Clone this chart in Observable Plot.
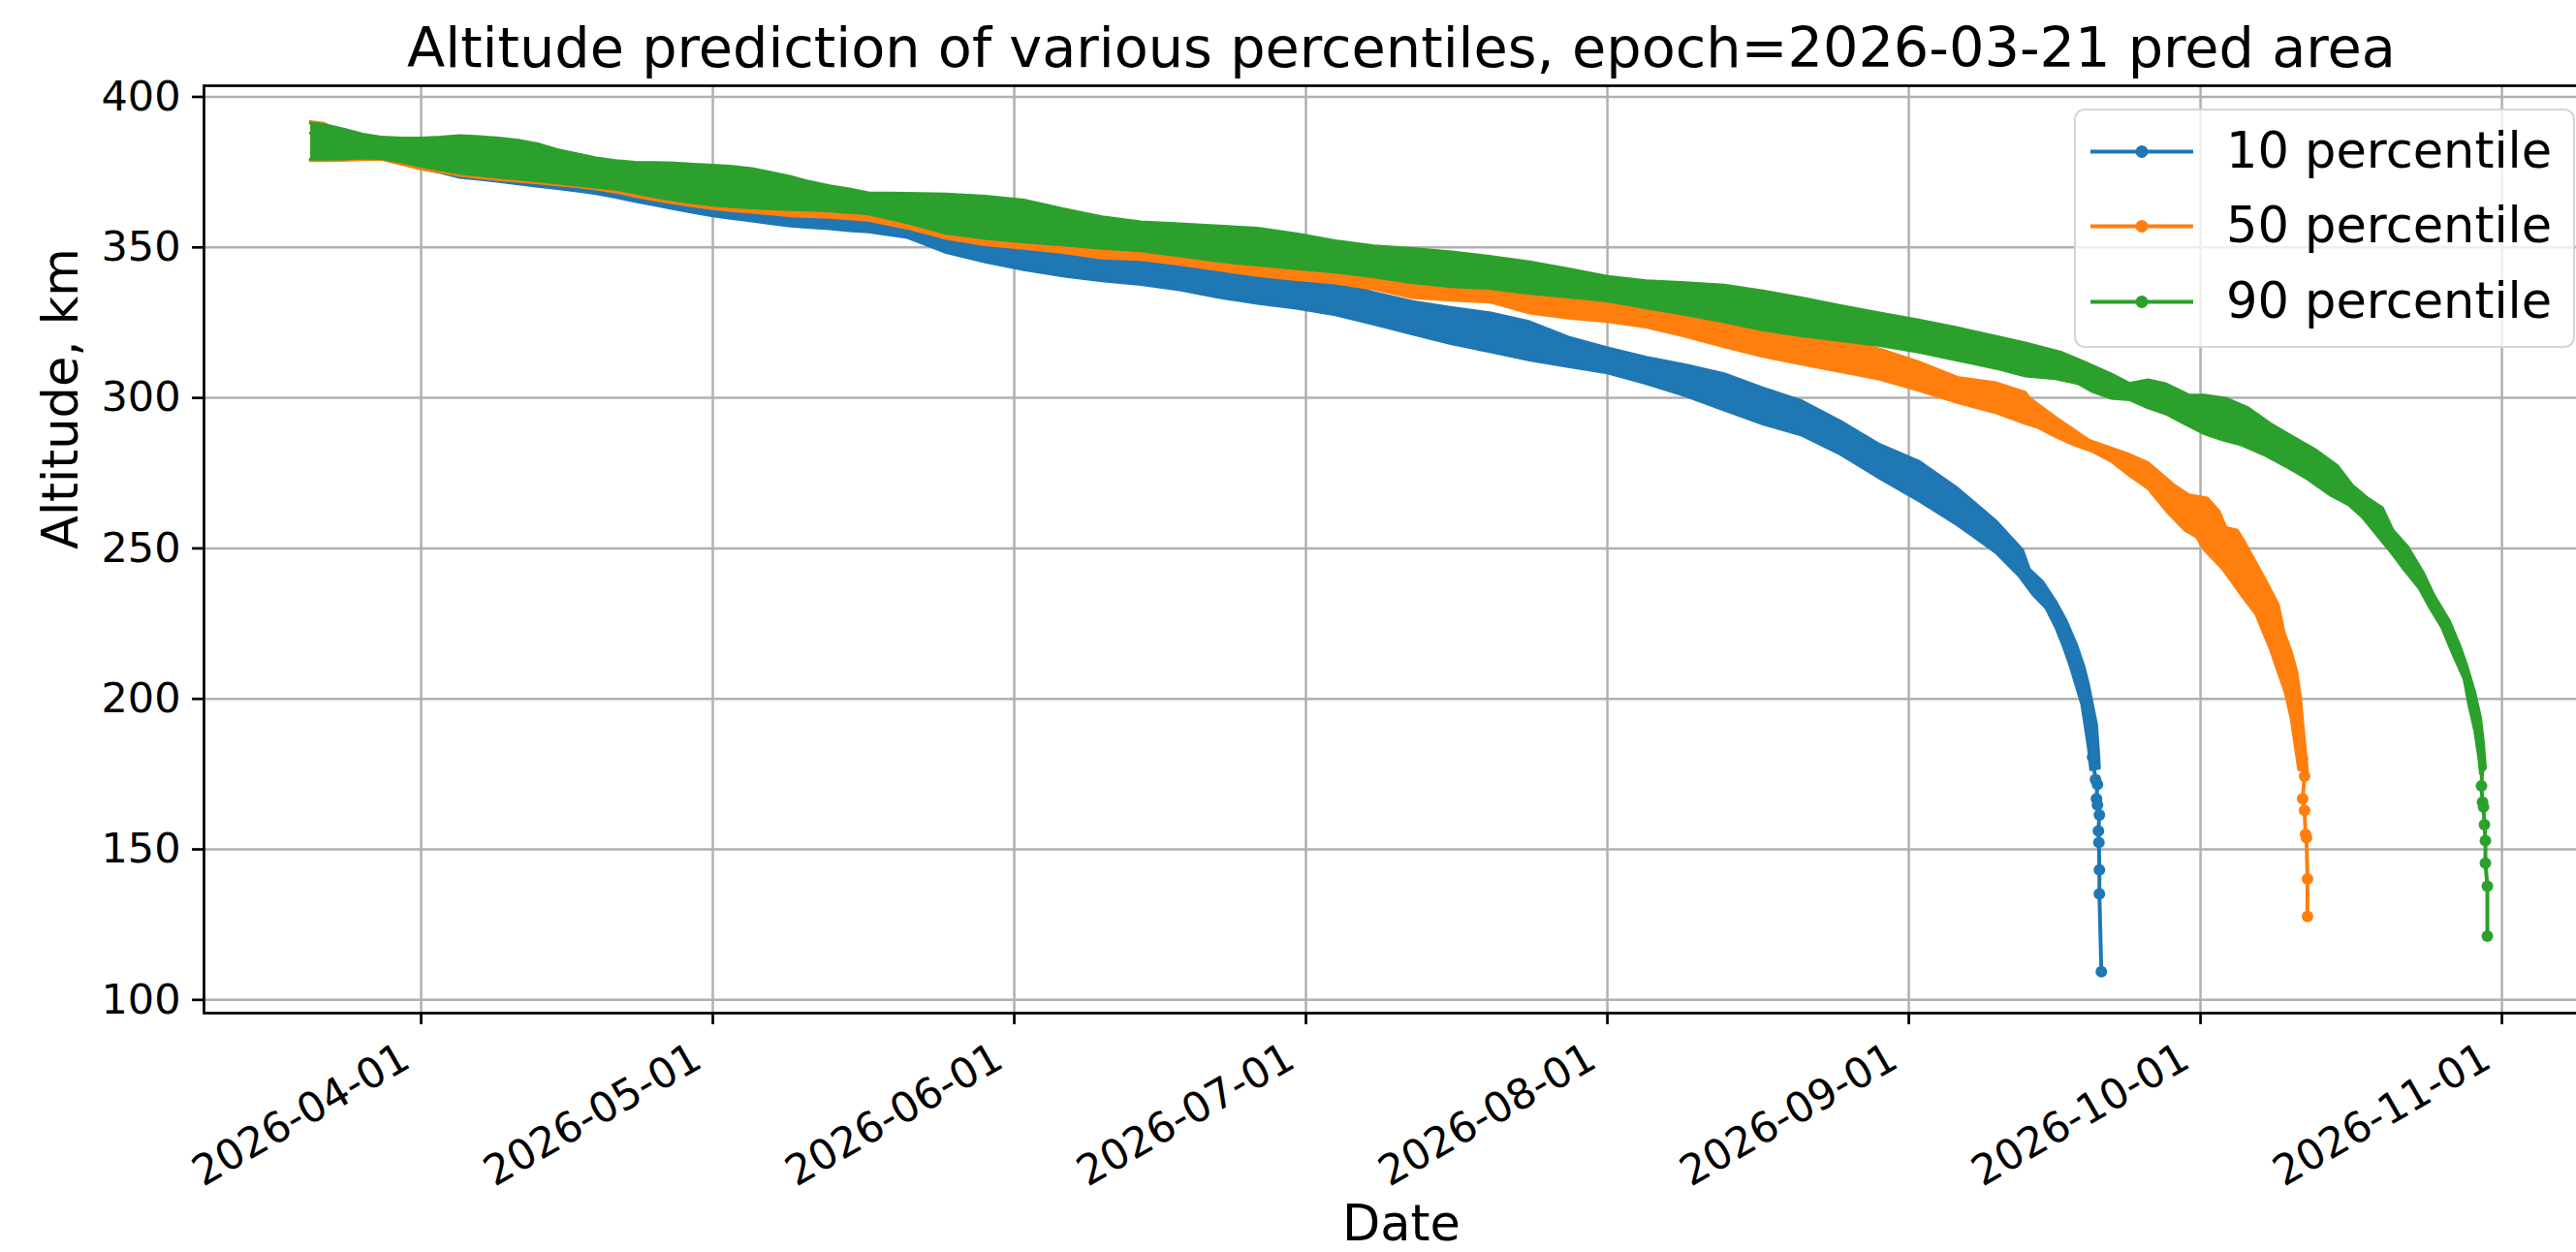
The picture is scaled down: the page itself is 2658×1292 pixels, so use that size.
<!DOCTYPE html>
<html><head><meta charset="utf-8">
<script src="https://cdn.jsdelivr.net/npm/d3@7"></script>
<script src="https://cdn.jsdelivr.net/npm/@observablehq/plot@0.6"></script>
<style>
html, body { margin:0; padding:0; background:#fff; overflow:hidden; }
#wrap { position:relative; width:2658px; height:1292px; font-family:"DejaVu Sans"; }
#legend { position:absolute; left:2140px; top:112px; width:517px; height:247px; box-sizing:border-box;
  border:2.5px solid rgba(204,204,204,0.8); border-radius:11px; background:rgba(255,255,255,0.8); }
</style></head>
<body><div id="wrap"><div id="chart"></div><div id="legend"></div></div>
<script>
// ---------------- DATA ----------------
const EPOCH = "2026-03-21";
const titleText = "Altitude prediction of various percentiles, epoch=2026-03-21 pred area";
const xLabel = "Date";
const yLabel = "Altitude, km";
const seriesNames = ["10 percentile", "50 percentile", "90 percentile"];
const seriesColors = ["#1f77b4", "#ff7f0e", "#2ca02c"];
const xTickLabels = ["2026-04-01","2026-05-01","2026-06-01","2026-07-01","2026-08-01","2026-09-01","2026-10-01","2026-11-01"];
const yTicks = [100, 150, 200, 250, 300, 350, 400];

// sample days (days after epoch) for the slowly varying part of the bands
const gridDays = [-0.4,1,3,5,7,9,11,13,15,17,19,21,23,25,27,29,31,33,35,37,39,41,43,45,47,49,51,53,55,57,
  61,65,69,73,77,81,85,89,93,97,101,105,109,113,117,121,125,129,133,137,141,145,149,153,157,161,165,169,173,176];

// 10 percentile: upper / lower envelope of the oscillating track (km)
const p10UpperGrid = [388.0,388.0,387.3,385.6,384.6,384.3,384.3,384.6,384.3,383.6,382.9,382.1,381.3,380.5,379.1,377.7,376.8,376.3,375.1,373.8,372.6,371.5,370.6,369.8,368.9,368.1,367.6,367.2,366.6,366.1,
  364.3,359.3,356.2,353.6,351.5,349.9,348.7,346.9,344.4,342.4,340.8,338.6,335.0,332.0,330.0,328.2,325.3,320.2,316.6,313.5,311.0,308.0,303.3,299.0,292.2,284.5,279.0,270.0,259.0];
const p10LowerGrid = [379.1,379.1,379.2,379.5,379.4,377.8,376.2,374.9,373.3,372.6,371.9,371.1,370.3,369.6,368.8,367.9,366.7,365.3,364.1,362.8,361.6,360.5,359.6,358.8,357.9,357.1,356.6,356.2,355.6,355.2,
  353.3,348.3,345.2,342.6,340.5,338.9,337.7,335.9,333.4,331.4,329.8,327.6,324.5,321.2,318.0,315.3,312.6,310.4,308.3,304.8,300.7,296.0,291.3,287.6,281.2,273.3,265.9,257.8,248.5];
const p10UpperSteepDays = [174.3,175.7,176.4,177.8,179.1,180.2,181.2,182.0,182.5,182.9,183.3,183.5,183.6];
const p10UpperSteepAlt  = [254.4,249.5,243.1,238.8,232.4,225.9,218.4,210.9,204.5,198.0,191.6,183.0,177.0];
const p10LowerSteepDays = [175.3,176.8,178.1,179.1,179.9,180.6,181.2,181.8,182.1,182.5,182.7];
const p10LowerSteepAlt  = [241.0,234.5,230.2,223.8,217.4,210.9,204.5,198.0,191.6,183.0,176.5];
const p10TailDays = [183.1,182.9,183.2,183.4,183.3,183.4,183.6,183.5,183.55,183.6,183.6,183.8];
const p10TailAlt  = [182.0,180.7,173.2,171.6,166.8,164.7,161.4,156.1,152.3,143.2,135.2,109.4];

// 50 percentile
const p50UpperGrid = [391.8,391.2,387.8,386.1,385.1,384.8,384.8,385.1,384.9,384.1,383.5,383.0,382.4,381.0,379.6,378.2,377.3,376.8,376.7,375.7,374.8,373.9,373.2,372.7,372.1,371.5,370.3,369.0,367.9,366.6,
  366.5,364.0,361.9,360.7,359.3,357.5,357.0,355.4,353.5,351.7,350.3,349.2,347.2,344.3,343.5,342.8,339.2,337.5,336.4,334.5,331.5,328.0,324.8,322.2,319.4,316.2,312.0,306.8,305.0,301.8];
const p50LowerGrid = [378.8,378.8,378.9,379.2,379.2,377.6,376.1,375.0,373.9,373.1,372.5,372.0,371.4,370.8,370.2,369.4,368.4,367.0,365.8,364.7,363.8,362.9,362.2,361.7,361.1,360.5,360.2,360.0,359.5,359.0,
  356.4,353.0,350.9,349.7,348.3,346.5,346.0,344.4,342.5,340.7,339.3,338.2,336.2,333.3,332.5,331.8,328.2,326.5,325.4,323.5,320.5,317.0,313.8,311.2,308.7,306.2,302.5,298.5,295.0,291.5];
const p50UpperSteepDays = [176.4,179.1,182.5,186.7,188.6,191.3,192.8,194.7,195.9,196.6,197.8,198.6,199.7,200.8,202.0,202.6,203.3,203.9,204.3,204.5,204.8,205.0];
const p50UpperSteepAlt  = [300.0,293.5,286.0,281.2,278.5,271.0,267.8,266.7,262.4,257.0,256.0,251.7,245.2,238.8,231.3,222.0,216.0,209.0,200.2,192.5,182.5,176.0];
const p50LowerSteepDays = [177.2,179.1,181.0,182.9,184.8,186.7,188.6,190.5,192.4,193.6,194.4,196.3,198.2,199.7,201.2,202.0,202.7,203.3,203.7,204.1];
const p50LowerSteepAlt  = [290.3,287.1,284.4,282.2,279.0,274.2,269.9,262.4,256.0,253.8,249.5,243.1,234.5,228.1,216.3,208.8,202.3,193.8,185.2,176.5];
const p50TailDays = [204.6,204.5,204.7,204.5,204.7,204.8,204.9,205.0,205.0];
const p50TailAlt  = [182.0,180.2,174.3,166.8,163.0,155.0,153.9,140.2,127.7];

// 90 percentile
const p90UpperGrid = [391.3,390.8,389.3,387.6,386.6,386.3,386.3,386.6,387.1,386.8,386.3,385.6,384.4,382.5,381.1,379.7,378.8,378.3,378.2,378.0,377.6,377.3,376.9,376.2,374.9,373.5,371.8,370.5,369.4,368.1,
  368.0,367.7,367.0,365.7,362.8,360.2,358.5,357.8,357.1,356.4,354.5,352.2,350.5,349.6,348.5,347.0,345.2,342.9,340.4,338.9,338.3,337.5,335.5,333.2,330.6,328.2,325.9,323.3,320.4,318.2];
const p90LowerGrid = [379.3,379.3,379.4,379.7,379.5,378.3,377.0,375.8,374.6,373.9,373.3,372.7,372.1,371.4,370.7,370.0,369.3,368.1,366.8,365.7,364.8,364.0,363.5,363.1,362.8,362.6,362.4,362.1,361.6,361.1,
  358.2,354.7,353.0,351.8,350.8,349.7,348.9,347.2,345.4,344.1,342.9,341.8,340.2,338.3,337.0,336.3,334.7,333.5,332.2,329.9,327.7,325.3,322.6,320.6,319.0,317.4,315.2,312.5,309.8,307.3];
const p90UpperSteepDays = [179.8,182.0,184.8,186.7,188.6,190.5,192.8,194.4,196.6,198.9,201.2,203.5,205.8,208.1,209.6,211.2,212.7,213.8,215.3,216.9,218.0,219.6,220.7,221.4,222.2,222.8,223.1,223.3];
const p90UpperSteepAlt  = [315.0,312.0,308.0,304.8,306.0,304.6,301.0,300.9,299.9,296.7,291.4,287.1,282.8,277.4,271.0,266.7,263.5,256.0,250.6,242.0,234.5,225.9,217.4,210.9,202.3,193.8,185.2,177.0];
const p90LowerSteepDays = [179.1,181.4,182.9,184.8,186.7,188.6,190.5,192.4,194.4,196.3,198.2,200.5,202.7,205.0,207.3,209.2,210.7,212.3,213.4,214.9,216.5,217.6,218.8,219.9,221.1,221.6,222.2,222.6,222.8];
const p90LowerSteepAlt  = [306.4,304.8,302.1,299.9,299.4,296.7,294.6,291.4,288.1,286.0,284.4,281.2,277.4,273.1,267.8,264.6,260.2,253.8,249.5,243.1,236.7,230.2,223.8,215.2,206.6,198.0,189.5,180.9,175.0];
const p90TailDays = [223.0,222.9,223.0,223.1,223.2,223.3,223.3,223.5,223.5];
const p90TailAlt  = [180.0,171.1,165.7,164.1,158.2,152.9,145.4,137.8,121.2];

// ---------------- BUILD ----------------
const epochMs = Date.parse(EPOCH + "T00:00:00Z");
const toDate = d => new Date(epochMs + d * 864e5);

function bandPolygon(upGrid, loGrid, upDays, upAlt, loDays, loAlt) {
  const upper = upGrid.map((a, i) => [gridDays[i], a]).concat(upDays.map((d, i) => [d, upAlt[i]]));
  const lower = loGrid.map((a, i) => [gridDays[i], a]).concat(loDays.map((d, i) => [d, loAlt[i]]));
  return upper.concat(lower.reverse()).map(([d, a]) => ({date: toDate(d), alt: a}));
}
const tailPoints = (days, alts) => days.map((d, i) => ({date: toDate(d), alt: alts[i]}));

const series = [
  {poly: bandPolygon(p10UpperGrid, p10LowerGrid, p10UpperSteepDays, p10UpperSteepAlt, p10LowerSteepDays, p10LowerSteepAlt), tail: tailPoints(p10TailDays, p10TailAlt)},
  {poly: bandPolygon(p50UpperGrid, p50LowerGrid, p50UpperSteepDays, p50UpperSteepAlt, p50LowerSteepDays, p50LowerSteepAlt), tail: tailPoints(p50TailDays, p50TailAlt)},
  {poly: bandPolygon(p90UpperGrid, p90LowerGrid, p90UpperSteepDays, p90UpperSteepAlt, p90LowerSteepDays, p90LowerSteepAlt), tail: tailPoints(p90TailDays, p90TailAlt)}
].map((s, i) => ({...s, name: seriesNames[i], color: seriesColors[i]}));

const xTicks = xTickLabels.map(s => new Date(s + "T00:00:00Z"));
const xDomain = [new Date("2026-03-09T16:05:00Z"), new Date("2026-11-10T23:00:00Z")];
const yDomain = [95.6, 403.7];

const marks = [
  Plot.ruleX(xTicks, {stroke: "#b0b0b0", strokeWidth: 2.5}),
  Plot.ruleY(yTicks, {stroke: "#b0b0b0", strokeWidth: 2.5})
];
for (const s of series) {
  marks.push(Plot.line(s.poly, {x: "date", y: "alt", fill: s.color, stroke: s.color, strokeWidth: 3}));
  marks.push(Plot.line(s.tail, {x: "date", y: "alt", stroke: s.color, strokeWidth: 4}));
  marks.push(Plot.dot(s.tail.slice(1), {x: "date", y: "alt", r: 6, fill: s.color, stroke: "none"}));
}
marks.push(
  Plot.frame({stroke: "black", strokeWidth: 2.7}),
  Plot.axisY({ticks: yTicks, tickSize: 12, tickPadding: 12, fontSize: 43, strokeWidth: 2.7, label: null, tickFormat: d => String(d)}),
  Plot.axisX({ticks: xTicks, tickSize: 12, strokeWidth: 2.7, label: null, tickFormat: () => ""}),
  Plot.text(xTicks, {x: d => d, text: (d, i) => xTickLabels[i], frameAnchor: "bottom", dx: -24, dy: 28,
    rotate: -30, textAnchor: "end", lineAnchor: "top", fontSize: 43}),
  Plot.text([xLabel], {frameAnchor: "bottom", dy: 234, lineAnchor: "bottom", fontSize: 51}),
  Plot.text([yLabel], {frameAnchor: "left", dx: -147, rotate: -90, fontSize: 51}),
  Plot.text([titleText], {frameAnchor: "top", dy: -20, lineAnchor: "bottom", fontSize: 57.3})
);

const chart = Plot.plot({
  width: 2658, height: 1292,
  marginLeft: 210, marginRight: -23, marginTop: 88, marginBottom: 247,
  style: {fontFamily: "DejaVu Sans", fontSize: "42px", background: "white", color: "black", overflow: "hidden"},
  x: {type: "utc", domain: xDomain},
  y: {type: "linear", domain: yDomain},
  marks
});
document.getElementById("chart").appendChild(chart);

// ---------------- LEGEND ----------------
const NS = "http://www.w3.org/2000/svg";
const lg = document.createElementNS(NS, "svg");
lg.setAttribute("width", 512); lg.setAttribute("height", 242);
lg.style.display = "block";
const rowY = [42.5, 119.5, 197.5];
series.forEach((s, i) => {
  const ln = document.createElementNS(NS, "line");
  ln.setAttribute("x1", 15); ln.setAttribute("x2", 121);
  ln.setAttribute("y1", rowY[i]); ln.setAttribute("y2", rowY[i]);
  ln.setAttribute("stroke", s.color); ln.setAttribute("stroke-width", 4);
  lg.appendChild(ln);
  const c = document.createElementNS(NS, "circle");
  c.setAttribute("cx", 68); c.setAttribute("cy", rowY[i]); c.setAttribute("r", 6.5);
  c.setAttribute("fill", s.color);
  lg.appendChild(c);
  const t = document.createElementNS(NS, "text");
  t.setAttribute("x", 155); t.setAttribute("y", rowY[i] + 16);
  t.setAttribute("font-family", "DejaVu Sans"); t.setAttribute("font-size", 51);
  t.setAttribute("fill", "black");
  t.textContent = s.name;
  lg.appendChild(t);
});
document.getElementById("legend").appendChild(lg);
</script></body></html>
